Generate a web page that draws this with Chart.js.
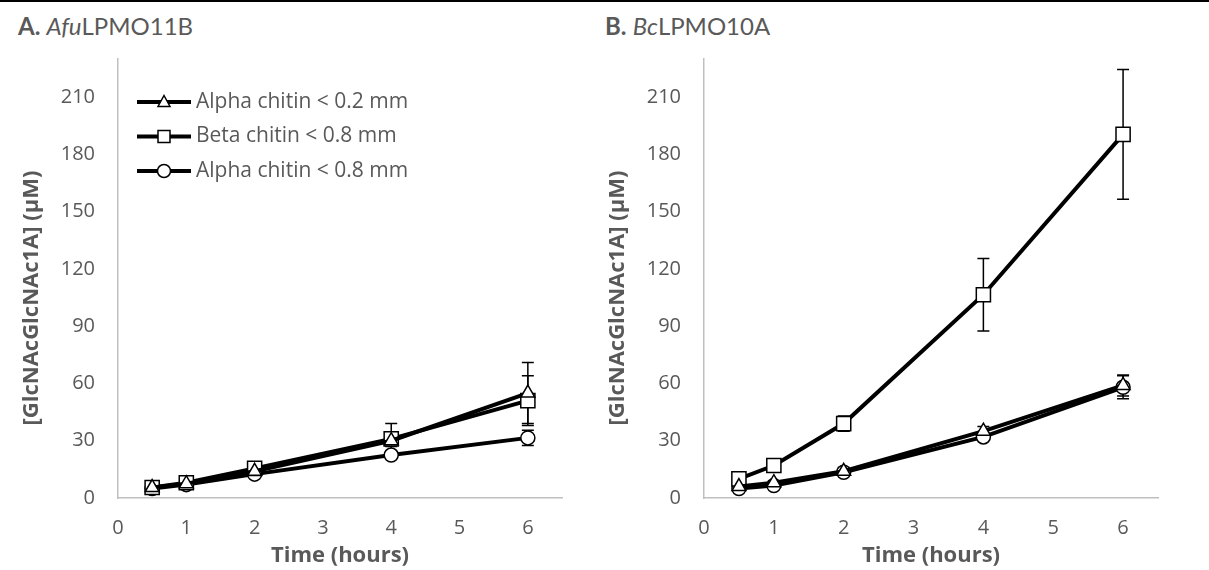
<!DOCTYPE html>
<html>
<head>
<meta charset="utf-8">
<script src="https://cdn.jsdelivr.net/npm/chart.js@4.4.0/dist/chart.umd.min.js"></script>
<style>
  body { margin: 0; width: 1209px; height: 570px; overflow: hidden; background: #fff; font-family: Lato, sans-serif; }
  #rule { position: absolute; left: 0; top: 0; width: 1209px; height: 2px; background: #000; }
  .ptitle { position: absolute; top: 14px; font-size: 24px; line-height: 1; color: #595959; white-space: nowrap; }
  .ptitle b { font-weight: 700; }
  canvas { position: absolute; top: 0; }
</style>
</head>
<body>
<div id="rule"></div>
<div class="ptitle" style="left:18px"><b>A.</b> <i>Afu</i>LPMO11B</div>
<div class="ptitle" style="left:605px"><b>B.</b> <i>Bc</i>LPMO10A</div>
<canvas id="chartA" width="600" height="570" style="left:0"></canvas>
<canvas id="chartB" width="623" height="570" style="left:586px"></canvas>
<script>
// Sampling times (hours)
const times = [0.5, 1, 2, 4, 6];

// Axis tick labels
const xTickLabels = [0, 1, 2, 3, 4, 5, 6];
const yTickLabels = [0, 30, 60, 90, 120, 150, 180, 210];

// Series names
const seriesNames = ['Alpha chitin < 0.2 mm', 'Beta chitin < 0.8 mm', 'Alpha chitin < 0.8 mm'];

// AfuLPMO11B product concentrations (µM) and standard deviations
const afuAlpha02 = [5.5, 7.5, 14, 30, 55];
const afuBeta08 = [5.5, 8, 15.5, 31, 51];
const afuAlpha08 = [5, 7, 12.5, 22.5, 31.5];
const afuAlpha02Err = [1, 1.5, 1.5, 3, 16];
const afuBeta08Err = [1.5, 1.5, 1.5, 8, 13];
const afuAlpha08Err = [1, 1, 1, 2, 4];

// BcLPMO10A product concentrations (µM) and standard deviations
const bcAlpha02 = [6, 8, 14, 35, 59];
const bcBeta08 = [10, 17, 39, 106.5, 190.5];
const bcAlpha08 = [5, 6.5, 13.5, 32, 58];
const bcAlpha02Err = [1, 1, 2, 2.5, 5.5];
const bcBeta08Err = [1, 1.5, 4, 19, 34];
const bcAlpha08Err = [0.5, 1, 1, 1.5, 6];

const TEXT = '#595959';
const AXIS = '#bfbfbf';
const FONT = '"Open Sans"';
const Y_TITLE = '[GlcNAcGlcNAc1A] (µM)';

const markers = [
  { style: 'triangle', radius: 8 },
  { style: 'rect', radius: 10 },
  { style: 'circle', radius: 7 }
];

function makeDataset(i, values, errs) {
  return {
    label: seriesNames[i],
    data: times.map((t, j) => ({ x: t, y: values[j] })),
    errors: errs,
    borderColor: '#000',
    borderWidth: 4,
    tension: 0,
    fill: false,
    pointStyle: markers[i].style,
    pointRadius: markers[i].radius,
    pointBackgroundColor: '#fff',
    pointBorderColor: '#000',
    pointBorderWidth: 1.5
  };
}

// Vertical error bars with caps, drawn beneath the markers
const errorBars = {
  id: 'errorBars',
  beforeDatasetsDraw(chart) {
    const { ctx, scales: { x, y } } = chart;
    ctx.save();
    ctx.strokeStyle = '#000';
    ctx.lineWidth = 1.5;
    chart.data.datasets.forEach(ds => {
      ds.data.forEach((p, j) => {
        const e = ds.errors[j];
        const px = x.getPixelForValue(p.x);
        const top = y.getPixelForValue(p.y + e);
        const bot = y.getPixelForValue(p.y - e);
        ctx.beginPath();
        ctx.moveTo(px, top); ctx.lineTo(px, bot);
        ctx.moveTo(px - 6, top); ctx.lineTo(px + 6, top);
        ctx.moveTo(px - 6, bot); ctx.lineTo(px + 6, bot);
        ctx.stroke();
      });
    });
    ctx.restore();
  }
};

// Rotated value-axis title, set slightly below the plot's mid-height
const yAxisTitle = {
  id: 'yAxisTitle',
  afterDraw(chart) {
    const ctx = chart.ctx;
    ctx.save();
    ctx.translate(32, 298);
    ctx.rotate(-Math.PI / 2);
    ctx.fillStyle = TEXT;
    ctx.font = 'bold 22px ' + FONT;
    ctx.textAlign = 'center';
    ctx.textBaseline = 'middle';
    ctx.fillText(Y_TITLE, 0, 0);
    ctx.restore();
  }
};

function drawMarker(ctx, style, cx, cy) {
  ctx.beginPath();
  if (style === 'triangle') {
    ctx.moveTo(cx, cy - 6.5);
    ctx.lineTo(cx + 6, cy + 4.5);
    ctx.lineTo(cx - 6, cy + 4.5);
    ctx.closePath();
  } else if (style === 'rect') {
    ctx.rect(cx - 6, cy - 6, 12, 12);
  } else {
    ctx.arc(cx, cy, 6.5, 0, Math.PI * 2);
  }
  ctx.fillStyle = '#fff';
  ctx.fill();
  ctx.stroke();
}

// Legend placed inside the plot area
const insideLegend = {
  id: 'insideLegend',
  afterDraw(chart) {
    const ctx = chart.ctx;
    ctx.save();
    chart.data.datasets.forEach((ds, i) => {
      const cy = 102 + i * 34.5;
      ctx.strokeStyle = '#000';
      ctx.lineWidth = 4;
      ctx.beginPath();
      ctx.moveTo(137, cy); ctx.lineTo(191, cy);
      ctx.stroke();
      ctx.lineWidth = 1.5;
      drawMarker(ctx, ds.pointStyle, 164, cy);
      ctx.fillStyle = TEXT;
      ctx.font = '21px ' + FONT;
      ctx.textBaseline = 'middle';
      ctx.textAlign = 'left';
      ctx.fillText(ds.label, 196, cy);
    });
    ctx.restore();
  }
};

function makeChart(id, datasets, rightPad, withLegend) {
  return new Chart(document.getElementById(id), {
    type: 'line',
    data: { datasets },
    plugins: withLegend ? [errorBars, yAxisTitle, insideLegend] : [errorBars, yAxisTitle],
    options: {
      responsive: false,
      animation: false,
      layout: { padding: { left: 0, top: 59, right: rightPad, bottom: 0 } },
      plugins: { legend: { display: false }, tooltip: { enabled: false } },
      scales: {
        x: {
          type: 'linear',
          min: 0,
          max: 6.5,
          afterBuildTicks: s => { s.ticks = xTickLabels.map(v => ({ value: v })); },
          afterFit: s => { s.height = 72; },
          grid: { display: false },
          border: { display: true, color: AXIS, width: 1.5 },
          ticks: { padding: 10, color: TEXT, font: { family: FONT, size: 20 } },
          title: {
            display: true, text: 'Time (hours)', color: TEXT,
            font: { family: FONT, size: 22, weight: 'bold' },
            padding: { top: 0, bottom: 1 }
          }
        },
        y: {
          type: 'linear',
          min: 0,
          max: 230,
          afterBuildTicks: s => { s.ticks = yTickLabels.map(v => ({ value: v })); },
          afterFit: s => { s.width = 118; },
          grid: { display: false },
          border: { display: true, color: AXIS, width: 1.5 },
          ticks: { padding: 15, color: TEXT, font: { family: FONT, size: 20 } }
        }
      }
    }
  });
}

makeChart('chartA', [
  makeDataset(0, afuAlpha02, afuAlpha02Err),
  makeDataset(1, afuBeta08, afuBeta08Err),
  makeDataset(2, afuAlpha08, afuAlpha08Err)
], 38, true);

makeChart('chartB', [
  makeDataset(0, bcAlpha02, bcAlpha02Err),
  makeDataset(1, bcBeta08, bcBeta08Err),
  makeDataset(2, bcAlpha08, bcAlpha08Err)
], 51, false);
</script>
</body>
</html>
